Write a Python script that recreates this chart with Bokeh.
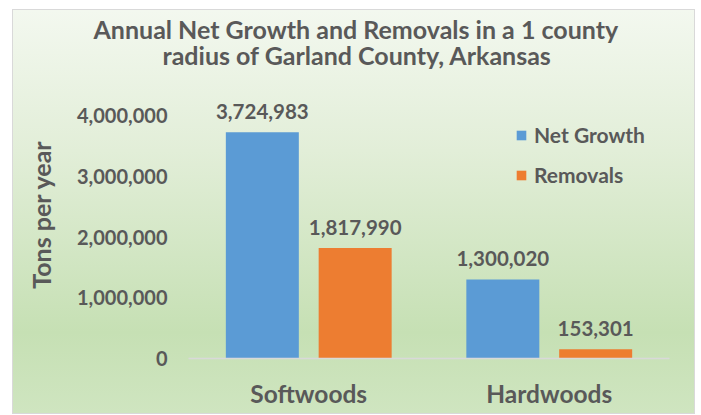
from bokeh.plotting import figure
from bokeh.models import ColumnDataSource, FixedTicker, NumeralTickFormatter, Legend, LegendItem, Title
from bokeh.transform import dodge
from bokeh.embed import file_html
from bokeh.resources import INLINE
from bokeh.core.properties import value

categories = ["Softwoods", "Hardwoods"]
net_growth = [3724983, 1300020]
removals = [1817990, 153301]
y_ticks = [0, 1000000, 2000000, 3000000, 4000000]
title_lines = ["Annual Net Growth and Removals in a 1 county", "radius of Garland County, Arkansas"]
series_names = ["Net Growth", "Removals"]
colors = ["#5B9BD5", "#ED7D31"]

FONT = "Lato"
TXT = "#595959"

src = ColumnDataSource(dict(
    cat=categories,
    ng=net_growth,
    rm=removals,
    ng_lbl=[f"{v:,}" for v in net_growth],
    rm_lbl=[f"{v:,}" for v in removals],
))

p = figure(
    x_range=categories, y_range=(0, 4741000),
    width=681, height=403, title=None,
    output_backend="svg", toolbar_location=None,
    min_border_left=175, min_border_right=25, min_border_top=60, min_border_bottom=55,
)
p.styles = {
    "margin": "10px 0 0 13px",
    "outline": "1px solid #d9d9d9",
    "background": "linear-gradient(180deg, #f3f8ef 0%, #e2eed8 35%, #c6e0b4 80%, #cfe5c0 100%)",
}
p.background_fill_alpha = 0
p.border_fill_alpha = 0
p.outline_line_color = None
p.x_range.range_padding = 0
p.xgrid.visible = False
p.ygrid.visible = False

# title: first added sits closest to the frame
for txt, so, ofs in ((title_lines[1], 2, -26), (title_lines[0], -14, -95)):
    p.add_layout(Title(text=txt, align="left", offset=ofs, standoff=so,
                       text_font=FONT, text_font_size="25px", text_font_style="bold",
                       text_color=TXT), "above")

bw = 0.3035
off = 0.193
r1 = p.vbar(x=dodge("cat", -off, range=p.x_range), top="ng", width=bw, source=src,
            fill_color=colors[0], line_color=None)
r2 = p.vbar(x=dodge("cat", off, range=p.x_range), top="rm", width=bw, source=src,
            fill_color=colors[1], line_color=None)

for col, lbl, o in (("ng", "ng_lbl", -off), ("rm", "rm_lbl", off)):
    p.text(x=dodge("cat", o, range=p.x_range), y=col, text=lbl, source=src,
           y_offset=-21, text_align="center", text_baseline="middle",
           text_font=value(FONT), text_font_size="20.5px", text_font_style="bold",
           text_color=TXT)

yax = p.yaxis[0]
yax.ticker = FixedTicker(ticks=y_ticks)
yax.formatter = NumeralTickFormatter(format="0,0")
yax.axis_line_color = None
yax.major_tick_line_color = None
yax.minor_tick_line_color = None
yax.major_tick_in = 0
yax.major_tick_out = 0
yax.minor_tick_in = 0
yax.minor_tick_out = 0
yax.major_label_standoff = 21
yax.major_label_text_font = FONT
yax.major_label_text_font_size = "20px"
yax.major_label_text_font_style = "bold"
yax.major_label_text_color = TXT
yax.axis_label = "Tons per year"
yax.axis_label_text_font = FONT
yax.axis_label_text_font_size = "25px"
yax.axis_label_text_font_style = "bold"
yax.axis_label_text_color = TXT
yax.axis_label_standoff = 18

xax = p.xaxis[0]
xax.axis_line_color = "#d9d9d9"
xax.axis_line_width = 1.5
xax.major_tick_line_color = None
xax.minor_tick_line_color = None
xax.major_tick_in = 0
xax.major_tick_out = 0
xax.major_label_standoff = 20
xax.major_label_text_font = FONT
xax.major_label_text_font_size = "24.5px"
xax.major_label_text_font_style = "bold"
xax.major_label_text_color = TXT

legend = Legend(items=[LegendItem(label=series_names[0], renderers=[r1]),
                       LegendItem(label=series_names[1], renderers=[r2])],
                location=(327, 171))
legend.padding = 0
legend.margin = 0
legend.spacing = 15
legend.border_line_color = None
legend.background_fill_alpha = 0
legend.glyph_width = 12
legend.glyph_height = 12
legend.label_height = 22
legend.label_standoff = 7
legend.label_text_font = FONT
legend.label_text_font_size = "21px"
legend.label_text_font_style = "bold"
legend.label_text_color = TXT
p.add_layout(legend)

open("out.html", "w").write(file_html(p, INLINE))
